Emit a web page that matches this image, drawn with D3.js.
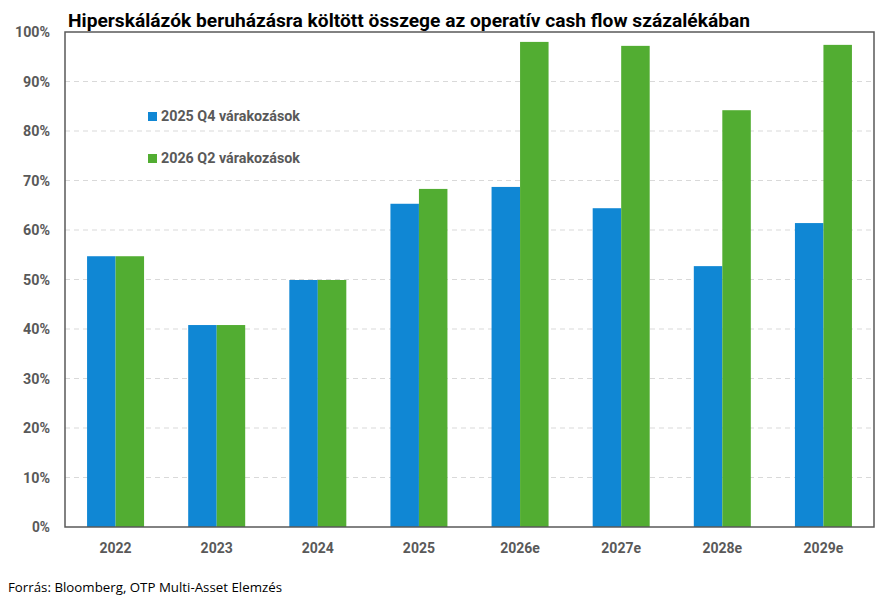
<!DOCTYPE html>
<html><head><meta charset="utf-8">
<script src="https://cdn.jsdelivr.net/npm/d3@7"></script>
<style>body{margin:0;background:#fff}svg{display:block}</style>
</head><body>
<svg id="c" width="889" height="600"></svg>
<script>
const categories = ["2022","2023","2024","2025","2026e","2027e","2028e","2029e"];
const seriesNames = ["2025 Q4 várakozások","2026 Q2 várakozások"];
const q4_2025 = [54.7, 40.8, 49.9, 65.3, 68.7, 64.4, 52.7, 61.4];
const q2_2026 = [54.7, 40.8, 49.9, 68.3, 98.0, 97.2, 84.2, 97.4];
const yTicks = [0,10,20,30,40,50,60,70,80,90,100];
const title = "Hiperskálázók beruházásra költött összege az operatív cash flow százalékában";
const source = "Forrás: Bloomberg, OTP Multi-Asset Elemzés";
const colors = ["#1087d4", "#52ad32"];

const svg = d3.select("#c");
const m = {l:65, r:874, t:32, b:527};
const x = d3.scaleBand().domain(categories).range([m.l, m.r]).padding(0);
const y = d3.scaleLinear().domain([0,100]).range([m.b, m.t]);
const font = "Roboto, 'Liberation Sans', sans-serif";
const gray = "#595959";

// grid
svg.append("g").selectAll("line").data(yTicks.filter(d=>d>0 && d<100)).join("line")
  .attr("x1", m.l).attr("x2", m.r).attr("y1", d=>y(d)).attr("y2", d=>y(d))
  .attr("stroke", "#d9d9d9").attr("stroke-width", 1).attr("stroke-dasharray", "5,4");

// bars
const bw = 28.5;
const series = [q4_2025, q2_2026];
series.forEach((vals, si) => {
  svg.append("g").selectAll("rect").data(categories).join("rect")
    .attr("x", (c) => x(c) + x.bandwidth()/2 + (si === 0 ? -bw : 0))
    .attr("width", bw)
    .attr("y", (c,i) => y(vals[i]))
    .attr("height", (c,i) => y(0) - y(vals[i]))
    .attr("fill", colors[si]);
});

// frame
svg.append("rect").attr("x", m.l).attr("y", m.t).attr("width", m.r-m.l).attr("height", m.b-m.t)
  .attr("fill", "none").attr("stroke", gray).attr("stroke-width", 1.5);

// y labels
svg.append("g").selectAll("text").data(yTicks).join("text")
  .attr("x", 50).attr("y", d=>y(d)).attr("dy", "0.36em").attr("text-anchor", "end")
  .attr("font-family", font).attr("font-weight", "bold").attr("font-size", 14).attr("fill", gray)
  .attr("textLength", d => d===100 ? 35 : (d===0 ? 18 : 27)).attr("lengthAdjust","spacingAndGlyphs")
  .text(d => d + "%");

// x labels
svg.append("g").selectAll("text").data(categories).join("text")
  .attr("x", c => x(c) + x.bandwidth()/2).attr("y", 548).attr("dy", "0.36em").attr("text-anchor", "middle")
  .attr("font-family", font).attr("font-weight", "bold").attr("font-size", 14).attr("fill", gray)
  .text(c => c);

// legend
seriesNames.forEach((n, i) => {
  const ly = 116 + i*42;
  svg.append("rect").attr("x", 148).attr("y", ly-4).attr("width", 9).attr("height", 9).attr("fill", colors[i]);
  svg.append("text").attr("x", 161).attr("y", ly).attr("dy", "0.36em")
    .attr("font-family", font).attr("font-weight", "bold").attr("font-size", 14).attr("fill", gray)
    .attr("textLength", 139).attr("lengthAdjust","spacingAndGlyphs")
    .text(n);
});

// title
svg.append("text").attr("x", 68).attr("y", 26.5)
  .attr("font-family", font).attr("font-weight", "bold").attr("font-size", 19).attr("fill", "#000")
  .attr("textLength", 682).attr("lengthAdjust","spacingAndGlyphs")
  .text(title);

// source
svg.append("text").attr("x", 8).attr("y", 592)
  .attr("font-family", "'Open Sans', sans-serif").attr("font-size", 13).attr("fill", "#000")
  .attr("textLength", 274).attr("lengthAdjust","spacingAndGlyphs")
  .text(source);
</script>
</body></html>
